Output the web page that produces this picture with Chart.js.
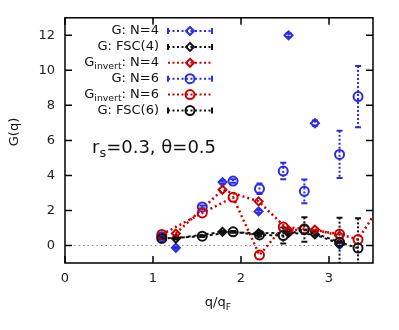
<!DOCTYPE html>
<html>
<head>
<meta charset="utf-8">
<script src="https://cdn.jsdelivr.net/npm/chart.js@4/dist/chart.umd.min.js"></script>
<style>
body { margin: 0; background: #fff; }
#wrap { width: 399px; height: 330px; }
</style>
</head>
<body>
<div id="wrap"><canvas id="gq" width="399" height="330"></canvas></div>
<script>
// q/qF positions of the two grids
const qN4 = [1.26, 1.79, 2.20, 2.54, 2.84, 3.12];
const qN6 = [1.10, 1.56, 1.91, 2.21, 2.48, 2.72, 3.12, 3.33];
const qInvN6 = [1.10, 1.56, 1.91, 2.21, 2.48, 2.72, 3.12, 3.33, 3.62];

// G(q) values and error bars
const gN4 = [-0.13, 3.62, 1.95, 12.0, 6.98, 0.05];
const errN4 = [0.05, 0.08, 0.08, 0.1, 0.15, 0.1];
const gFSC4 = [0.40, 0.78, 0.70, 0.72, 0.63, 0.10];
const errFSC4 = [0.05, 0.05, 0.05, 0.08, 0.08, 0.15];
const ginvN4 = [0.68, 3.18, 2.52, 0.87, 0.91, 0.55];
const gN6 = [0.50, 2.20, 3.68, 3.24, 4.25, 3.09, 5.20, 8.50];
const errN6 = [0.05, 0.08, 0.1, 0.3, 0.47, 0.68, 1.35, 1.75];
const ginvN6 = [0.63, 1.86, 2.75, -0.55, 1.06, 0.95, 0.65, 0.34, 2.6];
const gFSC6 = [0.40, 0.53, 0.78, 0.60, 0.57, 0.91, 0.19, -0.15];
const errFSC6 = [0.05, 0.05, 0.05, 0.08, 0.45, 0.7, 1.4, 1.7];

// tick labels
const xTicks = [0, 1, 2, 3];
const yTicks = [0, 2, 4, 6, 8, 10, 12];

const BLUE = '#2b2be8', RED = '#cc0000', BLACK = '#111111';
const FONT = '"DejaVu Sans", sans-serif';

function pts(xs, ys) {
    return ys.map((v, i) => ({ x: xs[i], y: v }));
}

function series(label, xs, ys, color, shape, opts) {
    return Object.assign({
        label: label,
        data: pts(xs, ys),
        borderColor: color,
        pointBorderColor: color,
        pointBackgroundColor: 'rgba(0,0,0,0)',
        pointStyle: shape,
        pointRadius: shape === 'circle' ? 4.5 : 4,
        pointBorderWidth: 2,
        borderWidth: 2.5,
        borderDash: [2, 3],
        showLine: true,
        fill: false
    }, opts);
}

const datasets = [
    series('G: N=4', qN4, gN4, BLUE, 'rectRot', { showLine: false, err: errN4, order: 6,
        parts: [['G: N=4']], caps: true }),
    series('G: FSC(4)', qN4, gFSC4, BLACK, 'rectRot', { err: errFSC4, order: 5, borderDash: [3, 3], borderWidth: 2,
        parts: [['G: FSC(4)']], caps: true }),
    series('Ginvert: N=4', qN4, ginvN4, RED, 'rectRot', { order: 4,
        parts: [['G'], ['invert', 1], [': N=4']] }),
    series('G: N=6', qN6, gN6, BLUE, 'circle', { showLine: false, err: errN6, order: 3,
        parts: [['G: N=6']], caps: true }),
    series('Ginvert: N=6', qInvN6, ginvN6, RED, 'circle', { order: 2,
        parts: [['G'], ['invert', 1], [': N=6']] }),
    series('G: FSC(6)', qN6, gFSC6, BLACK, 'circle', { err: errFSC6, order: 1, borderDash: [3, 3], borderWidth: 2,
        parts: [['G: FSC(6)']], caps: true })
];

// text with optional subscripts: parts = [[text, isSub], ...]
function richWidth(ctx, parts, size) {
    let w = 0;
    parts.forEach(p => {
        ctx.font = (p[1] ? size * 0.72 : size) + 'px ' + FONT;
        w += ctx.measureText(p[0]).width;
    });
    return w;
}
function drawRich(ctx, parts, x, y, size, align) {
    let w = richWidth(ctx, parts, size);
    let cx = align === 'right' ? x - w : align === 'center' ? x - w / 2 : x;
    ctx.textBaseline = 'middle';
    ctx.textAlign = 'left';
    parts.forEach(p => {
        let s = p[1] ? size * 0.72 : size;
        ctx.font = s + 'px ' + FONT;
        ctx.fillText(p[0], cx, p[1] ? y + size * 0.32 : y);
        cx += ctx.measureText(p[0]).width;
    });
}

function marker(ctx, shape, x, y, r) {
    ctx.beginPath();
    if (shape === 'circle') {
        ctx.arc(x, y, r, 0, Math.PI * 2);
    } else {
        ctx.moveTo(x, y - r); ctx.lineTo(x + r, y); ctx.lineTo(x, y + r); ctx.lineTo(x - r, y); ctx.closePath();
    }
    ctx.stroke();
}

const extras = {
    id: 'extras',
    beforeDatasetsDraw(chart) {
        const { ctx, chartArea: a, scales: { x, y } } = chart;
        ctx.save();
        // zero line
        ctx.strokeStyle = '#8a8a8a';
        ctx.lineWidth = 1;
        ctx.setLineDash([1.5, 3]);
        let y0 = y.getPixelForValue(0);
        ctx.beginPath(); ctx.moveTo(a.left, y0); ctx.lineTo(a.right, y0); ctx.stroke();
        // error bars
        ctx.beginPath(); ctx.rect(a.left, a.top, a.right - a.left, a.bottom - a.top); ctx.clip();
        chart.data.datasets.forEach(ds => {
            if (!ds.err) return;
            ctx.strokeStyle = ds.borderColor;
            ctx.lineWidth = 2;
            ds.data.forEach((p, i) => {
                let px = x.getPixelForValue(p.x);
                let top = y.getPixelForValue(p.y + ds.err[i]);
                let bot = y.getPixelForValue(p.y - ds.err[i]);
                ctx.setLineDash([2, 2]);
                ctx.beginPath(); ctx.moveTo(px, top); ctx.lineTo(px, bot); ctx.stroke();
                ctx.setLineDash([]);
                ctx.beginPath();
                ctx.moveTo(px - 3, top); ctx.lineTo(px + 3, top);
                ctx.moveTo(px - 3, bot); ctx.lineTo(px + 3, bot);
                ctx.stroke();
            });
        });
        ctx.restore();
    },
    afterDraw(chart) {
        const { ctx, chartArea: a, scales: { x, y } } = chart;
        ctx.save();
        // frame + inward ticks on all four sides
        ctx.strokeStyle = '#000';
        ctx.lineWidth = 1.5;
        ctx.setLineDash([]);
        ctx.strokeRect(a.left, a.top, a.right - a.left, a.bottom - a.top);
        ctx.beginPath();
        x.ticks.forEach(t => {
            let px = x.getPixelForValue(t.value);
            ctx.moveTo(px, a.bottom); ctx.lineTo(px, a.bottom - 7);
            ctx.moveTo(px, a.top); ctx.lineTo(px, a.top + 7);
        });
        y.ticks.forEach(t => {
            let py = y.getPixelForValue(t.value);
            ctx.moveTo(a.left, py); ctx.lineTo(a.left + 7, py);
            ctx.moveTo(a.right, py); ctx.lineTo(a.right - 7, py);
        });
        ctx.stroke();

        // legend (labels right aligned, sample to the right)
        ctx.fillStyle = '#111';
        datasets.forEach((ds, i) => {
            let ly = 31 + i * 15.9;
            drawRich(ctx, ds.parts, 159, ly, 13, 'right');
            ctx.strokeStyle = ds.borderColor;
            ctx.lineWidth = 2;
            ctx.setLineDash([2, 2.5]);
            ctx.beginPath(); ctx.moveTo(168, ly); ctx.lineTo(212, ly); ctx.stroke();
            ctx.setLineDash([]);
            if (ds.caps) {
                ctx.beginPath();
                ctx.moveTo(168, ly - 3); ctx.lineTo(168, ly + 3);
                ctx.moveTo(212, ly - 3); ctx.lineTo(212, ly + 3);
                ctx.stroke();
            }
            marker(ctx, ds.pointStyle, 190, ly, ds.pointRadius);
        });

        // annotation
        ctx.fillStyle = '#111';
        drawRich(ctx, [['r'], ['s', 1], ['=0.3, \u03b8=0.5']], 92, 148, 18, 'left');

        // axis titles
        drawRich(ctx, [['q/q'], ['F', 1]], 218, 303, 13, 'center');
        ctx.translate(15, 132);
        ctx.rotate(-Math.PI / 2);
        drawRich(ctx, [['G(q)']], 0, 0, 13, 'center');
        ctx.restore();
    }
};

new Chart(document.getElementById('gq').getContext('2d'), {
    type: 'line',
    data: { datasets: datasets },
    options: {
        responsive: false,
        animation: false,
        layout: { padding: { left: 0, right: 26, top: 16, bottom: 0 } },
        plugins: { legend: { display: false }, tooltip: { enabled: false } },
        scales: {
            x: {
                type: 'linear',
                min: 0,
                max: 3.5,
                grid: { display: false, drawTicks: false },
                border: { display: false },
                ticks: { padding: 8, color: '#222', font: { family: FONT, size: 13 } },
                afterBuildTicks: s => { s.ticks = xTicks.map(v => ({ value: v })); },
                afterFit: s => { s.height = 67; }
            },
            y: {
                min: -1,
                max: 13,
                grid: { display: false, drawTicks: false },
                border: { display: false },
                ticks: { padding: 10, color: '#222', font: { family: FONT, size: 13 } },
                afterBuildTicks: s => { s.ticks = yTicks.map(v => ({ value: v })); },
                afterFit: s => { s.width = 65; }
            }
        }
    },
    plugins: [extras]
});
</script>
</body>
</html>
